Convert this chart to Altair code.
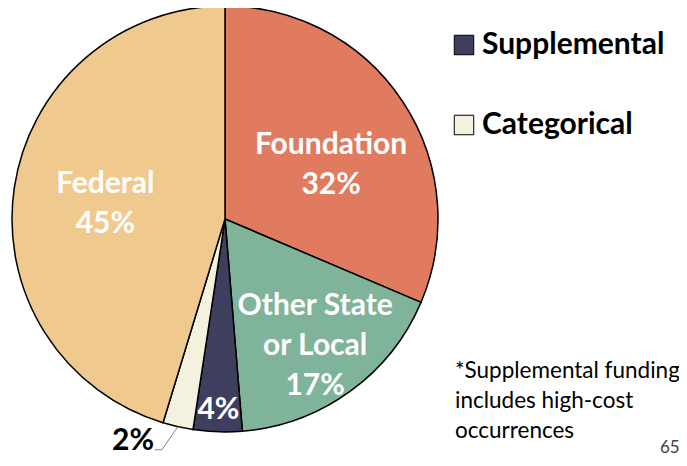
import math
import altair as alt
import pandas as pd

# ---- data ----
categories = ["Foundation", "Other State or Local", "Supplemental", "Categorical", "Federal"]
shares = [31.4, 17.3, 3.7, 2.3, 45.3]
labels = ["Foundation\n32%", "Other State\nor Local\n17%", "4%", "2%", "Federal\n45%"]
colors = ["#E07B5F", "#80B49A", "#3E3F5E", "#F4F1DE", "#F0C98F"]
legend_items = ["Supplemental", "Categorical"]
footnote = "*Supplemental funding\nincludes high-cost\noccurrences"
page_number = "65"

FONT = "Lato"
CX, CY, R = 217, 211, 213

df = pd.DataFrame({"category": categories, "share": shares, "label": labels,
                   "order": list(range(len(categories)))})
cum = df["share"].cumsum()
df["mid"] = cum - df["share"] / 2

theta_scale = alt.Scale(domain=[0, 100], range=[0, 2 * math.pi])
color_scale = alt.Scale(domain=categories, range=colors)

arcs = alt.Chart(df).mark_arc(outerRadius=R, stroke="black", strokeWidth=1.5).encode(
    theta=alt.Theta("share:Q", stack=True, scale=theta_scale),
    order=alt.Order("order:Q", sort="ascending"),
    color=alt.Color(
        "category:N", scale=color_scale,
        legend=alt.Legend(
            values=legend_items, title=None, orient="none", legendX=441, legendY=22,
            symbolType="square", symbolSize=380, symbolStrokeColor="black",
            symbolStrokeWidth=1, labelFont=FONT, labelFontSize=30, labelFontWeight="bold",
            labelColor="black", labelOffset=3, rowPadding=50, padding=0,
            labelLimit=300,
        ),
    ),
    x=alt.value(CX), y=alt.value(CY),
)

def slice_label(name, r, dx=0, dy=0, color="white"):
    return alt.Chart(df).transform_filter(alt.datum.category == name).mark_text(
        radius=r, dx=dx, dy=dy, font=FONT, fontSize=30, fontWeight="bold",
        color=color, lineBreak="\n", lineHeight=40, align="center", baseline="middle",
    ).encode(
        theta=alt.Theta("mid:Q", stack=None, scale=theta_scale),
        text="label:N", x=alt.value(CX), y=alt.value(CY),
    )

texts = [
    slice_label("Foundation", 120, dx=6, dy=-8),
    slice_label("Other State or Local", 154, dy=-38),
    slice_label("Federal", 121, dy=-17),
    slice_label("Supplemental", 189, dy=2),
    slice_label("Categorical", 230, dx=-41, dy=-2, color="black"),
]

# leader line for the small slice
cat_mid = float(df.loc[df.category == "Categorical", "mid"].iloc[0]) / 100 * 2 * math.pi
p1 = (CX + R * math.sin(cat_mid), CY - R * math.cos(cat_mid))
p2 = (p1[0] - 16, p1[1] + 23)
p3 = (p2[0] - 7, p2[1])
one = pd.DataFrame({"a": [0]})
lead1 = alt.Chart(one).mark_rule(color="#7F7F7F", strokeWidth=1).encode(
    x=alt.value(p1[0]), y=alt.value(p1[1]), x2=alt.value(p2[0]), y2=alt.value(p2[1]))
lead2 = alt.Chart(one).mark_rule(color="#7F7F7F", strokeWidth=1).encode(
    x=alt.value(p2[0]), y=alt.value(p2[1]), x2=alt.value(p3[0]), y2=alt.value(p3[1]))

note = alt.Chart(one).mark_text(
    font=FONT, fontSize=22.5, color="black", align="left", baseline="alphabetic",
    lineBreak="\n", lineHeight=30,
).encode(text=alt.value(footnote), x=alt.value(447), y=alt.value(370))

pnum = alt.Chart(one).mark_text(
    font=FONT, fontSize=17, color="#404040", align="left", baseline="bottom",
).encode(text=alt.value(page_number), x=alt.value(652), y=alt.value(449))

chart = alt.layer(arcs, *texts, lead1, lead2, note, pnum).properties(
    width=671, height=450, padding=0, autosize=alt.AutoSizeParams(type="none"),
).configure_view(stroke=None)

chart.save("out.html", embed_options={"renderer": "svg", "actions": False})
